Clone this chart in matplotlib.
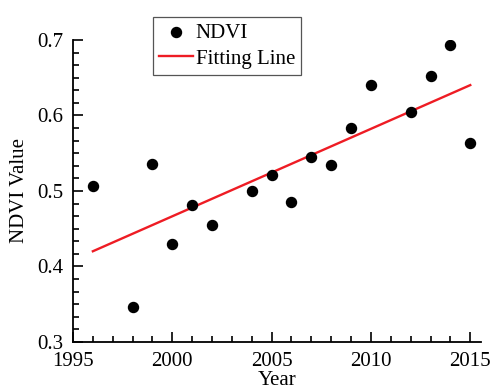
import numpy as np
import matplotlib.pyplot as plt
from matplotlib.ticker import MultipleLocator

years = [1996, 1998, 1999, 2000, 2001, 2002, 2004, 2005, 2006,
         2007, 2008, 2009, 2010, 2012, 2013, 2014, 2015]
ndvi = [0.507, 0.346, 0.536, 0.430, 0.481, 0.455, 0.500, 0.521, 0.485,
        0.545, 0.534, 0.583, 0.640, 0.605, 0.652, 0.693, 0.564]

plt.rcParams['font.family'] = ['Liberation Serif', 'DejaVu Serif']
plt.rcParams['font.size'] = 15

fig = plt.figure(figsize=(4.91, 3.92), dpi=100)
ax = fig.add_axes([0.1487, 0.1276, 0.8313, 0.7704])

x = np.array(years)
y = np.array(ndvi)
k, b = np.polyfit(x, y, 1)
xf = np.array([years[0], years[-1]])

ax.scatter(x, y, s=52, color='black', zorder=3, label='NDVI')
ax.plot(xf, k * xf + b, color='#ee1c24', lw=1.7, label='Fitting Line')

ax.set_xlim(1995, 2015.55)
ax.set_ylim(0.3, 0.7)
ax.xaxis.set_major_locator(MultipleLocator(5))
ax.xaxis.set_minor_locator(MultipleLocator(1))
ax.yaxis.set_major_locator(MultipleLocator(0.1))
ax.yaxis.set_minor_locator(MultipleLocator(0.1 / 6))
ax.tick_params(which='both', direction='in', width=1.2)
ax.tick_params(which='major', length=7, labelsize=15, pad=7)
ax.tick_params(which='minor', length=4)
ax.spines['top'].set_visible(False)
ax.spines['right'].set_visible(False)
ax.spines['left'].set_linewidth(1.3)
ax.spines['bottom'].set_linewidth(1.3)

ax.set_xlabel('Year', fontsize=15, labelpad=0)
ax.set_ylabel('NDVI Value', fontsize=15, labelpad=6)

leg = ax.legend(loc='upper left', bbox_to_anchor=(0.196, 1.076), fancybox=False,
                edgecolor='#555555', framealpha=1, fontsize=15,
                handlelength=1.6, handletextpad=0.15, borderpad=0.3,
                labelspacing=0.3, borderaxespad=0)
leg.get_frame().set_linewidth(0.9)

fig.savefig('out.png', dpi=100)
